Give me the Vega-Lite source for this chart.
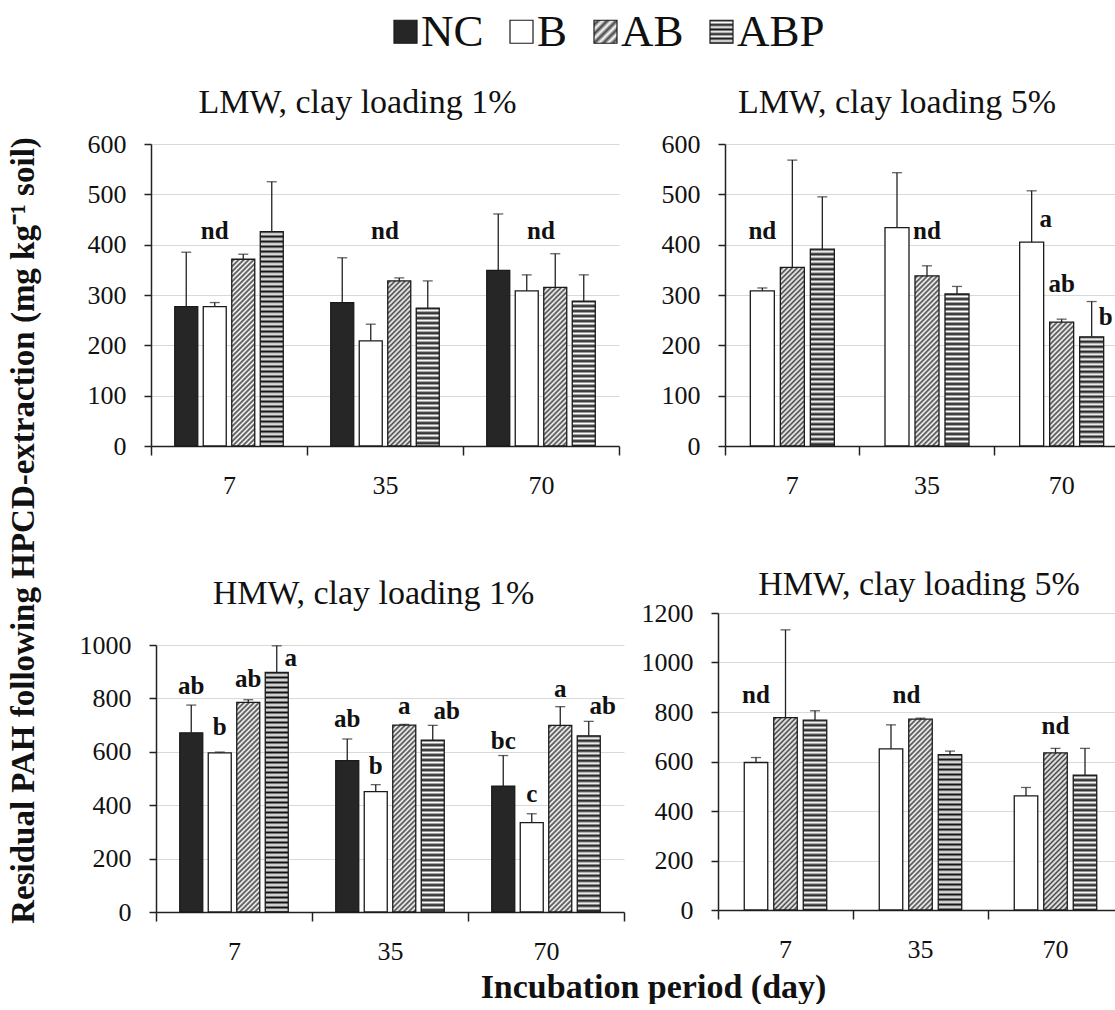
{
  "$schema": "https://vega.github.io/schema/vega-lite/v6.json",
  "background": "white",
  "autosize": {"type": "pad"},
  "padding": {"left": 7, "top": 9, "right": 0, "bottom": 0},
  "params": [
    {"name": "abpStops", "value": [
      {"offset":0,"color":"#111"},{"offset":0.01,"color":"#fff"},{"offset":0.02,"color":"#111"},{"offset":0.03,"color":"#fff"},{"offset":0.04,"color":"#111"},{"offset":0.05,"color":"#fff"},{"offset":0.06,"color":"#111"},{"offset":0.07,"color":"#fff"},{"offset":0.08,"color":"#111"},{"offset":0.09,"color":"#fff"},
      {"offset":0.1,"color":"#111"},{"offset":0.11,"color":"#fff"},{"offset":0.12,"color":"#111"},{"offset":0.13,"color":"#fff"},{"offset":0.14,"color":"#111"},{"offset":0.15,"color":"#fff"},{"offset":0.16,"color":"#111"},{"offset":0.17,"color":"#fff"},{"offset":0.18,"color":"#111"},{"offset":0.19,"color":"#fff"},
      {"offset":0.2,"color":"#111"},{"offset":0.21,"color":"#fff"},{"offset":0.22,"color":"#111"},{"offset":0.23,"color":"#fff"},{"offset":0.24,"color":"#111"},{"offset":0.25,"color":"#fff"},{"offset":0.26,"color":"#111"},{"offset":0.27,"color":"#fff"},{"offset":0.28,"color":"#111"},{"offset":0.29,"color":"#fff"},
      {"offset":0.3,"color":"#111"},{"offset":0.31,"color":"#fff"},{"offset":0.32,"color":"#111"},{"offset":0.33,"color":"#fff"},{"offset":0.34,"color":"#111"},{"offset":0.35,"color":"#fff"},{"offset":0.36,"color":"#111"},{"offset":0.37,"color":"#fff"},{"offset":0.38,"color":"#111"},{"offset":0.39,"color":"#fff"},
      {"offset":0.4,"color":"#111"},{"offset":0.41,"color":"#fff"},{"offset":0.42,"color":"#111"},{"offset":0.43,"color":"#fff"},{"offset":0.44,"color":"#111"},{"offset":0.45,"color":"#fff"},{"offset":0.46,"color":"#111"},{"offset":0.47,"color":"#fff"},{"offset":0.48,"color":"#111"},{"offset":0.49,"color":"#fff"},
      {"offset":0.5,"color":"#111"},{"offset":0.51,"color":"#fff"},{"offset":0.52,"color":"#111"},{"offset":0.53,"color":"#fff"},{"offset":0.54,"color":"#111"},{"offset":0.55,"color":"#fff"},{"offset":0.56,"color":"#111"},{"offset":0.57,"color":"#fff"},{"offset":0.58,"color":"#111"},{"offset":0.59,"color":"#fff"},
      {"offset":0.6,"color":"#111"},{"offset":0.61,"color":"#fff"},{"offset":0.62,"color":"#111"},{"offset":0.63,"color":"#fff"},{"offset":0.64,"color":"#111"},{"offset":0.65,"color":"#fff"},{"offset":0.66,"color":"#111"},{"offset":0.67,"color":"#fff"},{"offset":0.68,"color":"#111"},{"offset":0.69,"color":"#fff"},
      {"offset":0.7,"color":"#111"},{"offset":0.71,"color":"#fff"},{"offset":0.72,"color":"#111"},{"offset":0.73,"color":"#fff"},{"offset":0.74,"color":"#111"},{"offset":0.75,"color":"#fff"},{"offset":0.76,"color":"#111"},{"offset":0.77,"color":"#fff"},{"offset":0.78,"color":"#111"},{"offset":0.79,"color":"#fff"},
      {"offset":0.8,"color":"#111"},{"offset":0.81,"color":"#fff"},{"offset":0.82,"color":"#111"},{"offset":0.83,"color":"#fff"},{"offset":0.84,"color":"#111"},{"offset":0.85,"color":"#fff"},{"offset":0.86,"color":"#111"},{"offset":0.87,"color":"#fff"},{"offset":0.88,"color":"#111"},{"offset":0.89,"color":"#fff"},
      {"offset":0.9,"color":"#111"},{"offset":0.91,"color":"#fff"},{"offset":0.92,"color":"#111"},{"offset":0.93,"color":"#fff"},{"offset":0.94,"color":"#111"},{"offset":0.95,"color":"#fff"},{"offset":0.96,"color":"#111"},{"offset":0.97,"color":"#fff"},{"offset":0.98,"color":"#111"},{"offset":0.99,"color":"#fff"},
      {"offset":1,"color":"#111"}
    ]},
    {"name": "abStops", "value": [
      {"offset":0,"color":"#fff"},{"offset":0.01,"color":"#444"},{"offset":0.02,"color":"#fff"},{"offset":0.03,"color":"#444"},{"offset":0.04,"color":"#fff"},{"offset":0.05,"color":"#444"},{"offset":0.06,"color":"#fff"},{"offset":0.07,"color":"#444"},{"offset":0.08,"color":"#fff"},{"offset":0.09,"color":"#444"},
      {"offset":0.1,"color":"#fff"},{"offset":0.11,"color":"#444"},{"offset":0.12,"color":"#fff"},{"offset":0.13,"color":"#444"},{"offset":0.14,"color":"#fff"},{"offset":0.15,"color":"#444"},{"offset":0.16,"color":"#fff"},{"offset":0.17,"color":"#444"},{"offset":0.18,"color":"#fff"},{"offset":0.19,"color":"#444"},
      {"offset":0.2,"color":"#fff"},{"offset":0.21,"color":"#444"},{"offset":0.22,"color":"#fff"},{"offset":0.23,"color":"#444"},{"offset":0.24,"color":"#fff"},{"offset":0.25,"color":"#444"},{"offset":0.26,"color":"#fff"},{"offset":0.27,"color":"#444"},{"offset":0.28,"color":"#fff"},{"offset":0.29,"color":"#444"},
      {"offset":0.3,"color":"#fff"},{"offset":0.31,"color":"#444"},{"offset":0.32,"color":"#fff"},{"offset":0.33,"color":"#444"},{"offset":0.34,"color":"#fff"},{"offset":0.35,"color":"#444"},{"offset":0.36,"color":"#fff"},{"offset":0.37,"color":"#444"},{"offset":0.38,"color":"#fff"},{"offset":0.39,"color":"#444"},
      {"offset":0.4,"color":"#fff"},{"offset":0.41,"color":"#444"},{"offset":0.42,"color":"#fff"},{"offset":0.43,"color":"#444"},{"offset":0.44,"color":"#fff"},{"offset":0.45,"color":"#444"},{"offset":0.46,"color":"#fff"},{"offset":0.47,"color":"#444"},{"offset":0.48,"color":"#fff"},{"offset":0.49,"color":"#444"},
      {"offset":0.5,"color":"#fff"},{"offset":0.51,"color":"#444"},{"offset":0.52,"color":"#fff"},{"offset":0.53,"color":"#444"},{"offset":0.54,"color":"#fff"},{"offset":0.55,"color":"#444"},{"offset":0.56,"color":"#fff"},{"offset":0.57,"color":"#444"},{"offset":0.58,"color":"#fff"},{"offset":0.59,"color":"#444"},
      {"offset":0.6,"color":"#fff"},{"offset":0.61,"color":"#444"},{"offset":0.62,"color":"#fff"},{"offset":0.63,"color":"#444"},{"offset":0.64,"color":"#fff"},{"offset":0.65,"color":"#444"},{"offset":0.66,"color":"#fff"},{"offset":0.67,"color":"#444"},{"offset":0.68,"color":"#fff"},{"offset":0.69,"color":"#444"},
      {"offset":0.7,"color":"#fff"},{"offset":0.71,"color":"#444"},{"offset":0.72,"color":"#fff"},{"offset":0.73,"color":"#444"},{"offset":0.74,"color":"#fff"},{"offset":0.75,"color":"#444"},{"offset":0.76,"color":"#fff"},{"offset":0.77,"color":"#444"},{"offset":0.78,"color":"#fff"},{"offset":0.79,"color":"#444"},
      {"offset":0.8,"color":"#fff"},{"offset":0.81,"color":"#444"},{"offset":0.82,"color":"#fff"},{"offset":0.83,"color":"#444"},{"offset":0.84,"color":"#fff"},{"offset":0.85,"color":"#444"},{"offset":0.86,"color":"#fff"},{"offset":0.87,"color":"#444"},{"offset":0.88,"color":"#fff"},{"offset":0.89,"color":"#444"},
      {"offset":0.9,"color":"#fff"},{"offset":0.91,"color":"#444"},{"offset":0.92,"color":"#fff"},{"offset":0.93,"color":"#444"},{"offset":0.94,"color":"#fff"},{"offset":0.95,"color":"#444"},{"offset":0.96,"color":"#fff"},{"offset":0.97,"color":"#444"},{"offset":0.98,"color":"#fff"},{"offset":0.99,"color":"#444"},
      {"offset":1,"color":"#fff"}
    ]},
    {"name": "legABP", "value": {"gradient": "linear", "x1": 0, "y1": 0, "x2": 0, "y2": 1, "stops": [
      {"offset":0,"color":"#111"},{"offset":0.1,"color":"#fff"},{"offset":0.2,"color":"#111"},{"offset":0.3,"color":"#fff"},{"offset":0.4,"color":"#111"},{"offset":0.5,"color":"#fff"},{"offset":0.6,"color":"#111"},{"offset":0.7,"color":"#fff"},{"offset":0.8,"color":"#111"},{"offset":0.9,"color":"#fff"},{"offset":1,"color":"#111"}
    ]}},
    {"name": "legAB", "value": {"gradient": "linear", "x1": 0, "y1": 0, "x2": 1, "y2": 1, "stops": [
      {"offset":0,"color":"#fff"},{"offset":0.1,"color":"#444"},{"offset":0.2,"color":"#fff"},{"offset":0.3,"color":"#444"},{"offset":0.4,"color":"#fff"},{"offset":0.5,"color":"#444"},{"offset":0.6,"color":"#fff"},{"offset":0.7,"color":"#444"},{"offset":0.8,"color":"#fff"},{"offset":0.9,"color":"#444"},{"offset":1,"color":"#fff"}
    ]}}
  ],
  "datasets": {
    "bars": [
      {"p":"p1","day":"7","treatment":"NC","mean":277,"upper":385},
      {"p":"p1","day":"7","treatment":"B","mean":277,"upper":285},
      {"p":"p1","day":"7","treatment":"AB","mean":371,"upper":381},
      {"p":"p1","day":"7","treatment":"ABP","mean":426,"upper":525},
      {"p":"p1","day":"35","treatment":"NC","mean":285,"upper":374},
      {"p":"p1","day":"35","treatment":"B","mean":209,"upper":242},
      {"p":"p1","day":"35","treatment":"AB","mean":328,"upper":334},
      {"p":"p1","day":"35","treatment":"ABP","mean":274,"upper":328},
      {"p":"p1","day":"70","treatment":"NC","mean":349,"upper":461},
      {"p":"p1","day":"70","treatment":"B","mean":308,"upper":340},
      {"p":"p1","day":"70","treatment":"AB","mean":315,"upper":382},
      {"p":"p1","day":"70","treatment":"ABP","mean":288,"upper":340},
      {"p":"p2","day":"7","treatment":"B","mean":308,"upper":314},
      {"p":"p2","day":"7","treatment":"AB","mean":355,"upper":568},
      {"p":"p2","day":"7","treatment":"ABP","mean":391,"upper":495},
      {"p":"p2","day":"35","treatment":"B","mean":434,"upper":543},
      {"p":"p2","day":"35","treatment":"AB","mean":338,"upper":358},
      {"p":"p2","day":"35","treatment":"ABP","mean":302,"upper":317},
      {"p":"p2","day":"70","treatment":"B","mean":405,"upper":507},
      {"p":"p2","day":"70","treatment":"AB","mean":246,"upper":252},
      {"p":"p2","day":"70","treatment":"ABP","mean":217,"upper":287},
      {"p":"p3","day":"7","treatment":"NC","mean":671,"upper":775},
      {"p":"p3","day":"7","treatment":"B","mean":596,"upper":599},
      {"p":"p3","day":"7","treatment":"AB","mean":785,"upper":795},
      {"p":"p3","day":"7","treatment":"ABP","mean":897,"upper":997},
      {"p":"p3","day":"35","treatment":"NC","mean":567,"upper":648},
      {"p":"p3","day":"35","treatment":"B","mean":451,"upper":477},
      {"p":"p3","day":"35","treatment":"AB","mean":700,"upper":703},
      {"p":"p3","day":"35","treatment":"ABP","mean":644,"upper":699},
      {"p":"p3","day":"70","treatment":"NC","mean":471,"upper":586},
      {"p":"p3","day":"70","treatment":"B","mean":335,"upper":368},
      {"p":"p3","day":"70","treatment":"AB","mean":699,"upper":769},
      {"p":"p3","day":"70","treatment":"ABP","mean":660,"upper":714},
      {"p":"p4","day":"7","treatment":"B","mean":596,"upper":616},
      {"p":"p4","day":"7","treatment":"AB","mean":777,"upper":1132},
      {"p":"p4","day":"7","treatment":"ABP","mean":767,"upper":805},
      {"p":"p4","day":"35","treatment":"B","mean":651,"upper":748},
      {"p":"p4","day":"35","treatment":"AB","mean":771,"upper":775},
      {"p":"p4","day":"35","treatment":"ABP","mean":628,"upper":642},
      {"p":"p4","day":"70","treatment":"B","mean":461,"upper":495},
      {"p":"p4","day":"70","treatment":"AB","mean":635,"upper":653},
      {"p":"p4","day":"70","treatment":"ABP","mean":545,"upper":653}
    ],
    "labels": [
      {"p":"p1","day":"7","treatment":"B","v":427,"t":"nd","pos":"c"},
      {"p":"p1","day":"35","treatment":"","v":427,"t":"nd","pos":"m"},
      {"p":"p1","day":"70","treatment":"","v":427,"t":"nd","pos":"m"},
      {"p":"p2","day":"7","treatment":"B","v":427,"t":"nd","pos":"c"},
      {"p":"p2","day":"35","treatment":"AB","v":427,"t":"nd","pos":"c"},
      {"p":"p2","day":"70","treatment":"B","v":451,"t":"a","pos":"r"},
      {"p":"p2","day":"70","treatment":"AB","v":322,"t":"ab","pos":"c"},
      {"p":"p2","day":"70","treatment":"ABP","v":256,"t":"b","pos":"r"},
      {"p":"p3","day":"7","treatment":"NC","v":848,"t":"ab","pos":"c"},
      {"p":"p3","day":"7","treatment":"B","v":692,"t":"b","pos":"c"},
      {"p":"p3","day":"7","treatment":"AB","v":873,"t":"ab","pos":"c"},
      {"p":"p3","day":"7","treatment":"ABP","v":953,"t":"a","pos":"r"},
      {"p":"p3","day":"35","treatment":"NC","v":724,"t":"ab","pos":"c"},
      {"p":"p3","day":"35","treatment":"B","v":548,"t":"b","pos":"c"},
      {"p":"p3","day":"35","treatment":"AB","v":773,"t":"a","pos":"c"},
      {"p":"p3","day":"35","treatment":"ABP","v":754,"t":"ab","pos":"r"},
      {"p":"p3","day":"70","treatment":"NC","v":642,"t":"bc","pos":"c"},
      {"p":"p3","day":"70","treatment":"B","v":443,"t":"c","pos":"c"},
      {"p":"p3","day":"70","treatment":"AB","v":836,"t":"a","pos":"c"},
      {"p":"p3","day":"70","treatment":"ABP","v":773,"t":"ab","pos":"r"},
      {"p":"p4","day":"7","treatment":"B","v":869,"t":"nd","pos":"c"},
      {"p":"p4","day":"35","treatment":"AB","v":869,"t":"nd","pos":"l"},
      {"p":"p4","day":"70","treatment":"AB","v":744,"t":"nd","pos":"c"}
    ]
  },
  "title": {"text": "Residual PAH following HPCD-extraction (mg kg⁻¹ soil)", "orient": "left", "anchor": "middle", "frame": "bounds", "offset": 12, "dx": -24, "baseline": "alphabetic", "font": "Liberation Serif", "fontSize": 33, "fontWeight": "bold", "color": "#111"},
  "columns": 2,
  "spacing": {"row": 167, "column": 94},
  "bounds": "flush",
  "resolve": {"scale": {"x": "independent", "y": "independent", "xOffset": "independent"}},
  "concat": [
    {
      "width": 473, "height": 302,
      "title": {"text": "LMW, clay loading 1%", "anchor": "middle", "frame": "group", "offset": -16, "baseline": "alphabetic", "dx": -30, "fontSize": 34, "font": "Liberation Serif", "fontWeight": "normal", "color": "#111"},
      "layer": [
        {
          "data": {"name": "bars"},
          "transform": [{"filter": "datum.p == 'p1'"}],
          "mark": {"type": "bar", "stroke": "#1a1a1a", "strokeWidth": 1.3},
          "encoding": {
            "x": {"field": "day", "type": "nominal", "sort": ["7","35","70"], "title": null, "scale": {"domain": ["7","35","70"], "paddingInner": 0, "paddingOuter": 0, "range": [0, 468]}, "axis": {"tickBand": "extent", "labelAngle": 0, "tickSize": 9, "tickWidth": 1.5, "domainWidth": 1.5, "labelPadding": 17, "grid": false}},
            "xOffset": {"field": "treatment", "type": "nominal", "scale": {"domain": ["NC","B","AB","ABP"], "paddingInner": 0.193, "paddingOuter": 0.833}},
            "y": {"field": "mean", "type": "quantitative", "title": null, "scale": {"domain": [0, 600], "nice": false}, "axis": {"values": [0,100,200,300,400,500,600], "format": "d", "grid": true, "gridColor": "#d9d9d9", "tickSize": 7, "tickWidth": 1.5, "domainWidth": 1.5, "labelPadding": 18}},
            "fill": {"field": "treatment", "type": "nominal",
              "scale": {"domain": ["NC","B","AB","ABP"], "range": ["#262626", "#ffffff", {"expr": "legAB"}, {"expr": "legABP"}]},
              "legend": {"orient": "none", "legendX": 232, "legendY": -135, "direction": "horizontal", "title": null, "symbolType": "square", "symbolSize": 529, "symbolStrokeColor": "#222", "symbolStrokeWidth": 1.2, "labelFont": "Liberation Serif", "labelFontSize": 45, "labelColor": "#111", "labelOffset": -7, "columnPadding": 15, "padding": 0, "labelLimit": 300},
              "condition": [
                {"test": "datum.treatment == 'AB'", "value": {"expr": "{gradient: 'linear', x1: 0, y1: 0, x2: 250*23/(529+pow(datum.mean*0.50333,2)), y2: 250*datum.mean*0.50333/(529+pow(datum.mean*0.50333,2)), stops: abStops}"}},
                {"test": "datum.treatment == 'ABP'", "value": {"expr": "{gradient: 'linear', x1: 0, y1: 0, x2: 0, y2: 250/(datum.mean*0.50333), stops: abpStops}"}}
              ]}
          }
        },
        {
          "data": {"name": "bars"},
          "transform": [{"filter": "datum.p == 'p1'"}],
          "mark": {"type": "rule", "color": "#222", "strokeWidth": 1.3},
          "encoding": {
            "x": {"field": "day", "type": "nominal", "title": null},
            "xOffset": {"field": "treatment", "type": "nominal"},
            "y": {"field": "mean", "type": "quantitative", "title": null},
            "y2": {"field": "upper"}
          }
        },
        {
          "data": {"name": "bars"},
          "transform": [{"filter": "datum.p == 'p1'"}],
          "mark": {"type": "tick", "color": "#222", "thickness": 1.3, "size": 10},
          "encoding": {
            "x": {"field": "day", "type": "nominal", "title": null},
            "xOffset": {"field": "treatment", "type": "nominal"},
            "y": {"field": "upper", "type": "quantitative", "title": null}
          }
        },
        {
          "data": {"name": "labels"},
          "transform": [{"filter": "datum.p == 'p1' && datum.pos == 'c'"}],
          "mark": {"type": "text", "font": "Liberation Serif", "fontWeight": "bold", "fontSize": 25, "color": "#111", "baseline": "middle"},
          "encoding": {
            "x": {"field": "day", "type": "nominal", "title": null},
            "xOffset": {"field": "treatment", "type": "nominal"},
            "y": {"field": "v", "type": "quantitative", "title": null},
            "text": {"field": "t"}
          }
        },
        {
          "data": {"name": "labels"},
          "transform": [{"filter": "datum.p == 'p1' && datum.pos == 'm'"}],
          "mark": {"type": "text", "font": "Liberation Serif", "fontWeight": "bold", "fontSize": 25, "color": "#111", "baseline": "middle"},
          "encoding": {
            "x": {"field": "day", "type": "nominal", "title": null},
            "y": {"field": "v", "type": "quantitative", "title": null},
            "text": {"field": "t"}
          }
        }
      ]
    },
    {
      "width": 398, "height": 302,
      "title": {"text": "LMW, clay loading 5%", "anchor": "middle", "frame": "group", "offset": -16, "baseline": "alphabetic", "dx": -20, "fontSize": 34, "font": "Liberation Serif", "fontWeight": "normal", "color": "#111"},
      "layer": [
        {
          "data": {"name": "bars"},
          "transform": [{"filter": "datum.p == 'p2'"}],
          "mark": {"type": "bar", "stroke": "#1a1a1a", "strokeWidth": 1.3},
          "encoding": {
            "x": {"field": "day", "type": "nominal", "sort": ["7","35","70"], "title": null, "scale": {"domain": ["7","35","70"], "paddingInner": 0, "paddingOuter": 0, "range": [7, 411]}, "axis": {"domain": false, "bandPosition": 0, "labelAngle": 0, "tickSize": 9, "tickWidth": 1.5, "labelPadding": 17, "grid": false}},
            "xOffset": {"field": "treatment", "type": "nominal", "scale": {"domain": ["B","AB","ABP"], "paddingInner": 0.2, "paddingOuter": 0.844}},
            "y": {"field": "mean", "type": "quantitative", "title": null, "scale": {"domain": [0, 600], "nice": false}, "axis": {"values": [0,100,200,300,400,500,600], "format": "d", "offset": -7, "grid": true, "gridColor": {"condition": {"test": "datum.value === 0", "value": "#222"}, "value": "#d9d9d9"}, "gridWidth": {"condition": {"test": "datum.value === 0", "value": 1.5}, "value": 1}, "tickSize": 7, "tickWidth": 1.5, "domainWidth": 1.5, "labelPadding": 18}},
            "fill": {"field": "treatment", "type": "nominal",
              "scale": {"domain": ["NC","B","AB","ABP"], "range": ["#262626", "#ffffff", {"expr": "legAB"}, {"expr": "legABP"}]},
              "condition": [
                {"test": "datum.treatment == 'AB'", "value": {"expr": "{gradient: 'linear', x1: 0, y1: 0, x2: 250*24/(576+pow(datum.mean*0.50333,2)), y2: 250*datum.mean*0.50333/(576+pow(datum.mean*0.50333,2)), stops: abStops}"}},
                {"test": "datum.treatment == 'ABP'", "value": {"expr": "{gradient: 'linear', x1: 0, y1: 0, x2: 0, y2: 250/(datum.mean*0.50333), stops: abpStops}"}}
              ]}
          }
        },
        {
          "data": {"name": "bars"},
          "transform": [{"filter": "datum.p == 'p2'"}],
          "mark": {"type": "rule", "color": "#222", "strokeWidth": 1.3},
          "encoding": {
            "x": {"field": "day", "type": "nominal", "title": null},
            "xOffset": {"field": "treatment", "type": "nominal"},
            "y": {"field": "mean", "type": "quantitative", "title": null},
            "y2": {"field": "upper"}
          }
        },
        {
          "data": {"name": "bars"},
          "transform": [{"filter": "datum.p == 'p2'"}],
          "mark": {"type": "tick", "color": "#222", "thickness": 1.3, "size": 10},
          "encoding": {
            "x": {"field": "day", "type": "nominal", "title": null},
            "xOffset": {"field": "treatment", "type": "nominal"},
            "y": {"field": "upper", "type": "quantitative", "title": null}
          }
        },
        {
          "data": {"name": "labels"},
          "transform": [{"filter": "datum.p == 'p2' && datum.pos == 'c'"}],
          "mark": {"type": "text", "font": "Liberation Serif", "fontWeight": "bold", "fontSize": 25, "color": "#111", "baseline": "middle"},
          "encoding": {
            "x": {"field": "day", "type": "nominal", "title": null},
            "xOffset": {"field": "treatment", "type": "nominal"},
            "y": {"field": "v", "type": "quantitative", "title": null},
            "text": {"field": "t"}
          }
        },
        {
          "data": {"name": "labels"},
          "transform": [{"filter": "datum.p == 'p2' && datum.pos == 'r'"}],
          "mark": {"type": "text", "font": "Liberation Serif", "fontWeight": "bold", "fontSize": 25, "color": "#111", "baseline": "middle", "dx": 14},
          "encoding": {
            "x": {"field": "day", "type": "nominal", "title": null},
            "xOffset": {"field": "treatment", "type": "nominal"},
            "y": {"field": "v", "type": "quantitative", "title": null},
            "text": {"field": "t"}
          }
        }
      ]
    },
    {
      "width": 473, "height": 299,
      "title": {"text": "HMW, clay loading 1%", "anchor": "middle", "frame": "group", "offset": -25, "baseline": "alphabetic", "dx": -14, "fontSize": 34, "font": "Liberation Serif", "fontWeight": "normal", "color": "#111"},
      "layer": [
        {
          "data": {"name": "bars"},
          "transform": [{"filter": "datum.p == 'p3'"}],
          "mark": {"type": "bar", "stroke": "#1a1a1a", "strokeWidth": 1.3},
          "encoding": {
            "x": {"field": "day", "type": "nominal", "sort": ["7","35","70"], "title": "Incubation period (day)", "scale": {"domain": ["7","35","70"], "paddingInner": 0, "paddingOuter": 0, "range": [5, 473]}, "axis": {"tickBand": "extent", "labelAngle": 0, "tickSize": 9, "tickWidth": 1.5, "domainWidth": 1.5, "labelPadding": 17, "grid": false, "title": "Incubation period (day)", "titleX": 502, "titleY": 85, "titleAlign": "center", "titleAnchor": null, "titleBaseline": "alphabetic", "titleAngle": 0, "titleFont": "Liberation Serif", "titleFontSize": 34, "titleFontWeight": "bold", "titleColor": "#111"}},
            "xOffset": {"field": "treatment", "type": "nominal", "scale": {"domain": ["NC","B","AB","ABP"], "paddingInner": 0.193, "paddingOuter": 0.833}},
            "y": {"field": "mean", "type": "quantitative", "title": null, "scale": {"domain": [0, 1000], "nice": false, "range": [299, 32]}, "axis": {"values": [0,200,400,600,800,1000], "format": "d", "offset": -5, "grid": true, "gridColor": "#d9d9d9", "tickSize": 7, "tickWidth": 1.5, "domainWidth": 1.5, "labelPadding": 18}},
            "fill": {"field": "treatment", "type": "nominal",
              "scale": {"domain": ["NC","B","AB","ABP"], "range": ["#262626", "#ffffff", {"expr": "legAB"}, {"expr": "legABP"}]},
              "condition": [
                {"test": "datum.treatment == 'AB'", "value": {"expr": "{gradient: 'linear', x1: 0, y1: 0, x2: 250*23/(529+pow(datum.mean*0.267,2)), y2: 250*datum.mean*0.267/(529+pow(datum.mean*0.267,2)), stops: abStops}"}},
                {"test": "datum.treatment == 'ABP'", "value": {"expr": "{gradient: 'linear', x1: 0, y1: 0, x2: 0, y2: 250/(datum.mean*0.267), stops: abpStops}"}}
              ]}
          }
        },
        {
          "data": {"name": "bars"},
          "transform": [{"filter": "datum.p == 'p3'"}],
          "mark": {"type": "rule", "color": "#222", "strokeWidth": 1.3},
          "encoding": {
            "x": {"field": "day", "type": "nominal", "title": "Incubation period (day)"},
            "xOffset": {"field": "treatment", "type": "nominal"},
            "y": {"field": "mean", "type": "quantitative", "title": null},
            "y2": {"field": "upper"}
          }
        },
        {
          "data": {"name": "bars"},
          "transform": [{"filter": "datum.p == 'p3'"}],
          "mark": {"type": "tick", "color": "#222", "thickness": 1.3, "size": 10},
          "encoding": {
            "x": {"field": "day", "type": "nominal", "title": "Incubation period (day)"},
            "xOffset": {"field": "treatment", "type": "nominal"},
            "y": {"field": "upper", "type": "quantitative", "title": null}
          }
        },
        {
          "data": {"name": "labels"},
          "transform": [{"filter": "datum.p == 'p3' && datum.pos == 'c'"}],
          "mark": {"type": "text", "font": "Liberation Serif", "fontWeight": "bold", "fontSize": 25, "color": "#111", "baseline": "middle"},
          "encoding": {
            "x": {"field": "day", "type": "nominal", "title": "Incubation period (day)"},
            "xOffset": {"field": "treatment", "type": "nominal"},
            "y": {"field": "v", "type": "quantitative", "title": null},
            "text": {"field": "t"}
          }
        },
        {
          "data": {"name": "labels"},
          "transform": [{"filter": "datum.p == 'p3' && datum.pos == 'r'"}],
          "mark": {"type": "text", "font": "Liberation Serif", "fontWeight": "bold", "fontSize": 25, "color": "#111", "baseline": "middle", "dx": 14},
          "encoding": {
            "x": {"field": "day", "type": "nominal", "title": "Incubation period (day)"},
            "xOffset": {"field": "treatment", "type": "nominal"},
            "y": {"field": "v", "type": "quantitative", "title": null},
            "text": {"field": "t"}
          }
        }
      ]
    },
    {
      "width": 398, "height": 297,
      "title": {"text": "HMW, clay loading 5%", "anchor": "middle", "frame": "group", "offset": -29, "baseline": "alphabetic", "dx": 2, "fontSize": 34, "font": "Liberation Serif", "fontWeight": "normal", "color": "#111"},
      "layer": [
        {
          "data": {"name": "bars"},
          "transform": [{"filter": "datum.p == 'p4'"}],
          "mark": {"type": "bar", "stroke": "#1a1a1a", "strokeWidth": 1.3},
          "encoding": {
            "x": {"field": "day", "type": "nominal", "sort": ["7","35","70"], "title": null, "scale": {"domain": ["7","35","70"], "paddingInner": 0, "paddingOuter": 0, "range": [0, 405]}, "axis": {"domain": false, "bandPosition": 0, "labelAngle": 0, "tickSize": 9, "tickWidth": 1.5, "labelPadding": 17, "grid": false}},
            "xOffset": {"field": "treatment", "type": "nominal", "scale": {"domain": ["B","AB","ABP"], "paddingInner": 0.2034, "paddingOuter": 0.89}},
            "y": {"field": "mean", "type": "quantitative", "title": null, "scale": {"domain": [0, 1200], "nice": false}, "axis": {"values": [0,200,400,600,800,1000,1200], "format": "d", "grid": true, "gridColor": {"condition": {"test": "datum.value === 0", "value": "#222"}, "value": "#d9d9d9"}, "gridWidth": {"condition": {"test": "datum.value === 0", "value": 1.5}, "value": 1}, "tickSize": 7, "tickWidth": 1.5, "domainWidth": 1.5, "labelPadding": 18}},
            "fill": {"field": "treatment", "type": "nominal",
              "scale": {"domain": ["NC","B","AB","ABP"], "range": ["#262626", "#ffffff", {"expr": "legAB"}, {"expr": "legABP"}]},
              "condition": [
                {"test": "datum.treatment == 'AB'", "value": {"expr": "{gradient: 'linear', x1: 0, y1: 0, x2: 250*23.6/(557+pow(datum.mean*0.2475,2)), y2: 250*datum.mean*0.2475/(557+pow(datum.mean*0.2475,2)), stops: abStops}"}},
                {"test": "datum.treatment == 'ABP'", "value": {"expr": "{gradient: 'linear', x1: 0, y1: 0, x2: 0, y2: 250/(datum.mean*0.2475), stops: abpStops}"}}
              ]}
          }
        },
        {
          "data": {"name": "bars"},
          "transform": [{"filter": "datum.p == 'p4'"}],
          "mark": {"type": "rule", "color": "#222", "strokeWidth": 1.3},
          "encoding": {
            "x": {"field": "day", "type": "nominal", "title": null},
            "xOffset": {"field": "treatment", "type": "nominal"},
            "y": {"field": "mean", "type": "quantitative", "title": null},
            "y2": {"field": "upper"}
          }
        },
        {
          "data": {"name": "bars"},
          "transform": [{"filter": "datum.p == 'p4'"}],
          "mark": {"type": "tick", "color": "#222", "thickness": 1.3, "size": 10},
          "encoding": {
            "x": {"field": "day", "type": "nominal", "title": null},
            "xOffset": {"field": "treatment", "type": "nominal"},
            "y": {"field": "upper", "type": "quantitative", "title": null}
          }
        },
        {
          "data": {"name": "labels"},
          "transform": [{"filter": "datum.p == 'p4' && datum.pos == 'c'"}],
          "mark": {"type": "text", "font": "Liberation Serif", "fontWeight": "bold", "fontSize": 25, "color": "#111", "baseline": "middle"},
          "encoding": {
            "x": {"field": "day", "type": "nominal", "title": null},
            "xOffset": {"field": "treatment", "type": "nominal"},
            "y": {"field": "v", "type": "quantitative", "title": null},
            "text": {"field": "t"}
          }
        },
        {
          "data": {"name": "labels"},
          "transform": [{"filter": "datum.p == 'p4' && datum.pos == 'l'"}],
          "mark": {"type": "text", "font": "Liberation Serif", "fontWeight": "bold", "fontSize": 25, "color": "#111", "baseline": "middle", "dx": -14},
          "encoding": {
            "x": {"field": "day", "type": "nominal", "title": null},
            "xOffset": {"field": "treatment", "type": "nominal"},
            "y": {"field": "v", "type": "quantitative", "title": null},
            "text": {"field": "t"}
          }
        }
      ]
    }
  ],
  "config": {
    "view": {"stroke": null},
    "axis": {"labelFont": "Liberation Serif", "labelFontSize": 26, "labelColor": "#111", "domainColor": "#222", "tickColor": "#222", "titleFont": "Liberation Serif"},
    "title": {"font": "Liberation Serif", "color": "#111"}
  }
}
